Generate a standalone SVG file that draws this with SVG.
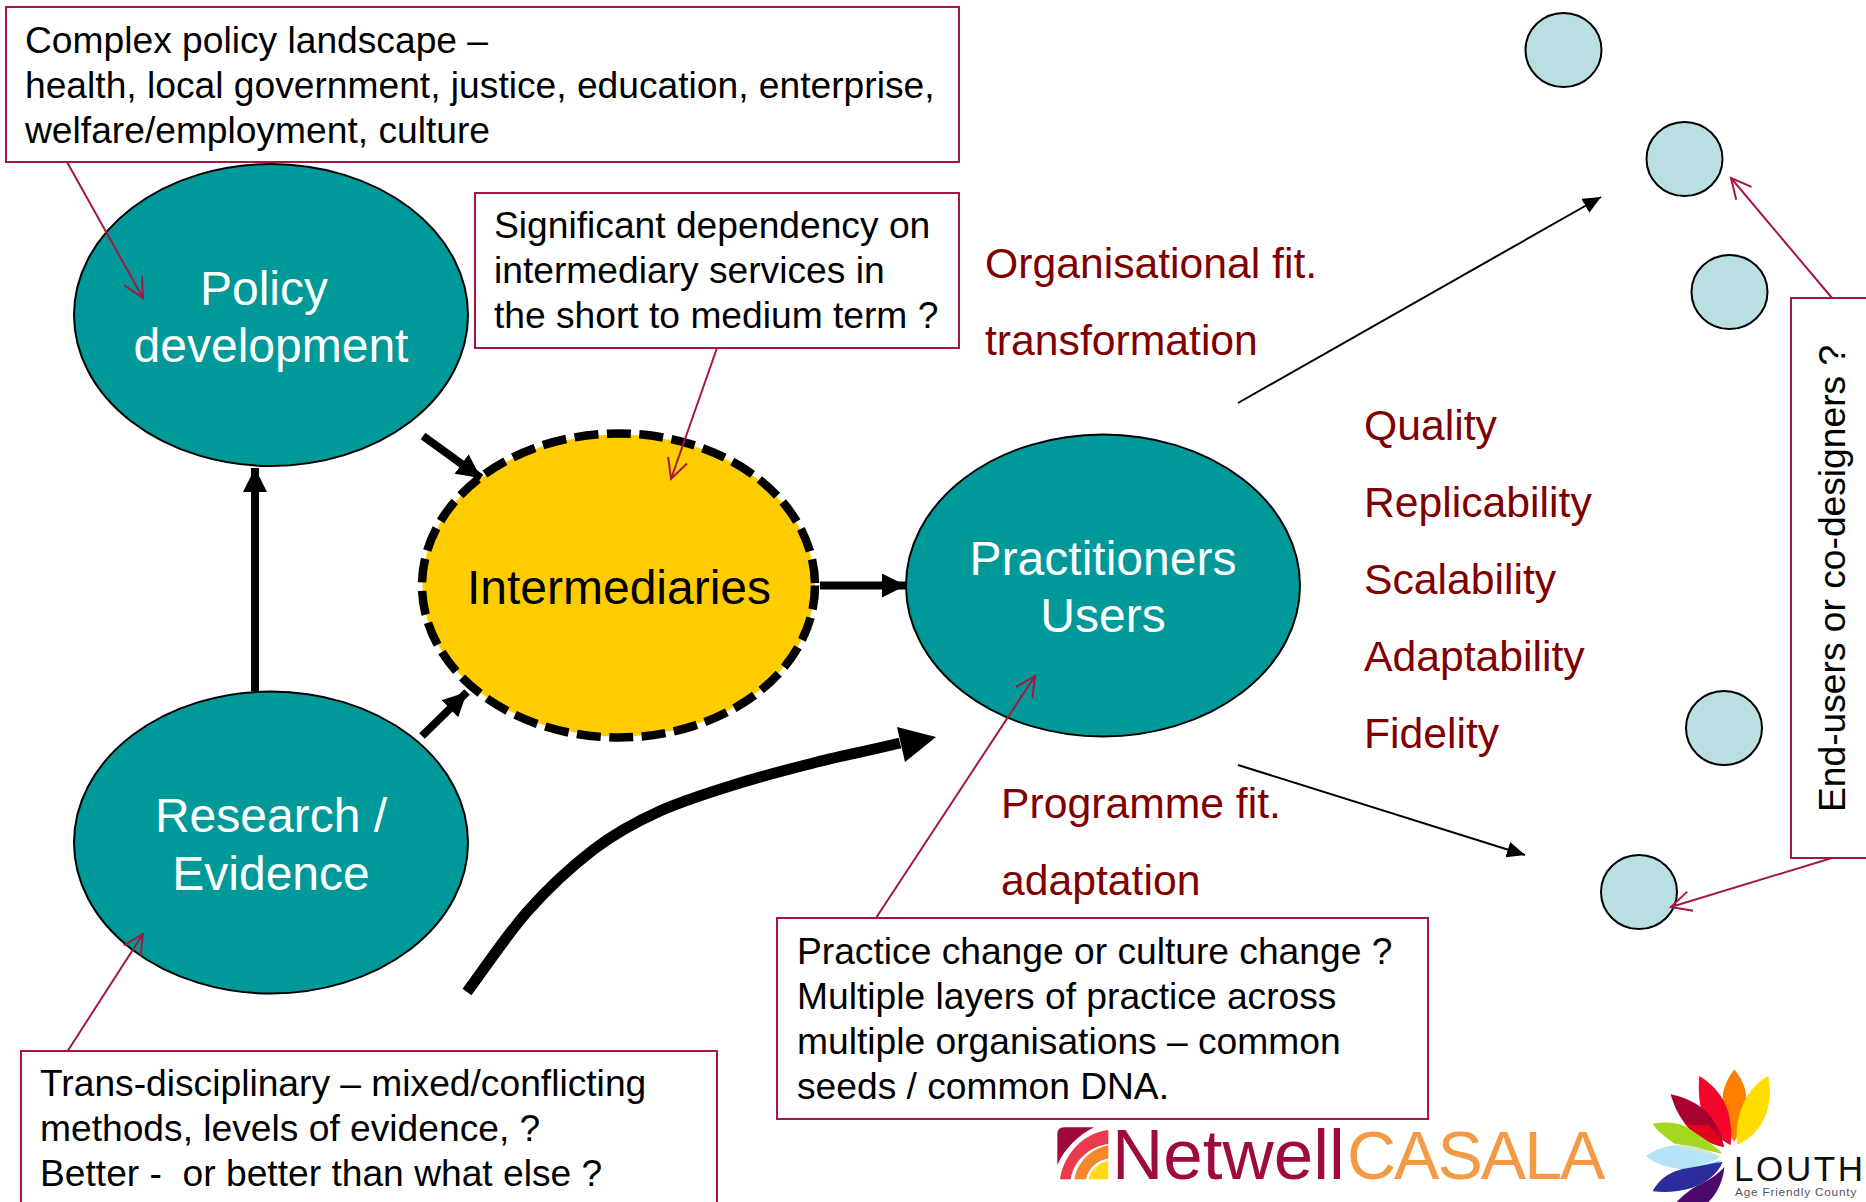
<svg xmlns="http://www.w3.org/2000/svg" width="1866" height="1202" viewBox="0 0 1866 1202">
<style>
text{font-family:"Liberation Sans",Arial,sans-serif}
.box{fill:#fff;stroke:#a5173f;stroke-width:2}
.t{font-size:37.200px;fill:#000}
.big{font-size:48px;fill:#fff;text-anchor:middle}
.red{font-size:42.700px;fill:#800000}
.teal{fill:#009999;stroke:#000;stroke-width:2}
.dot{fill:#b9dfe2;stroke:#000;stroke-width:2}
.thin{fill:none;stroke:#000;stroke-width:2;marker-end:url(#tri)}
.note{fill:none;stroke:#a5173f;stroke-width:2;marker-end:url(#open)}
.fat{fill:none;stroke:#000;stroke-width:8;marker-end:url(#fatHead)}
</style>
<defs>
<marker id="tri" markerUnits="userSpaceOnUse" markerWidth="20" markerHeight="16" refX="18" refY="8" orient="auto"><path d="M0 0L18 8L0 16Z" fill="#000"/></marker>
<marker id="open" markerUnits="userSpaceOnUse" markerWidth="24" markerHeight="26" refX="21" refY="11" orient="auto"><path d="M1 1L21 11L1 21" fill="none" stroke="#a5173f" stroke-width="2"/></marker>
<marker id="fatHead" markerUnits="userSpaceOnUse" markerWidth="26" markerHeight="26" refX="24" refY="12" orient="auto"><path d="M0 0L24 12L0 24Z" fill="#000"/></marker>
</defs>

<g id="node-policy"><ellipse class="teal" cx="271" cy="315" rx="197" ry="151"/><text class="big" x="264" y="305">Policy</text><text class="big" x="271" y="362">development</text></g>
<g id="node-research"><ellipse class="teal" cx="271" cy="842.500" rx="197" ry="151"/><text class="big" x="271" y="832">Research /</text><text class="big" x="271" y="890">Evidence</text></g>
<g id="node-practitioners"><ellipse class="teal" cx="1103" cy="585.500" rx="197" ry="151"/><text class="big" x="1103" y="575">Practitioners</text><text class="big" x="1103" y="632">Users</text></g>
<g id="node-intermediaries"><ellipse cx="618.500" cy="585.500" rx="196" ry="151" fill="#ffcc00"/><ellipse cx="618.500" cy="585.500" rx="196.500" ry="152" fill="none" stroke="#000" stroke-width="8.500" stroke-dasharray="24 8.500"/><text x="619" y="604" font-size="48" text-anchor="middle" fill="#000">Intermediaries</text></g>

<g id="node-dot1"><ellipse class="dot" cx="1563.500" cy="50" rx="38" ry="37"/></g>
<g id="node-dot2"><ellipse class="dot" cx="1684.500" cy="159" rx="38" ry="37"/></g>
<g id="node-dot3"><ellipse class="dot" cx="1729.500" cy="292" rx="38" ry="37"/></g>
<g id="node-dot4"><ellipse class="dot" cx="1724" cy="728" rx="38" ry="37"/></g>
<g id="node-dot5"><ellipse class="dot" cx="1639" cy="892" rx="38" ry="37"/></g>

<g id="note-policy"><rect class="box" x="6" y="7" width="953" height="155"/><text class="t" x="25" y="53">Complex policy landscape –</text><text class="t" x="25" y="98">health, local government, justice, education, enterprise,</text><text class="t" x="25" y="143">welfare/employment, culture</text></g>
<g id="note-intermediary"><rect class="box" x="475" y="193" width="484" height="155"/><text class="t" x="494" y="238">Significant dependency on</text><text class="t" x="494" y="283">intermediary services in</text><text class="t" x="494" y="328">the short to medium term ?</text></g>
<g id="note-research"><rect class="box" x="21" y="1051" width="696" height="160"/><text class="t" x="40" y="1096">Trans-disciplinary – mixed/conflicting</text><text class="t" x="40" y="1141">methods, levels of evidence, ?</text><text class="t" x="40" y="1186" xml:space="preserve">Better -  or better than what else ?</text></g>
<g id="note-practice"><rect class="box" x="777" y="918" width="651" height="201"/><text class="t" x="797" y="964">Practice change or culture change ?</text><text class="t" x="797" y="1009">Multiple layers of practice across</text><text class="t" x="797" y="1054">multiple organisations – common</text><text class="t" x="797" y="1099">seeds / common DNA.</text></g>
<g id="note-endusers"><rect class="box" x="1791" y="298" width="85" height="560"/><text class="t" transform="translate(1845 812) rotate(-90)">End-users or co-designers ?</text></g>

<g id="labels">
<text class="red" x="985" y="278">Organisational fit.</text>
<text class="red" x="985" y="355">transformation</text>
<text class="red" x="1364" y="440">Quality</text>
<text class="red" x="1364" y="517">Replicability</text>
<text class="red" x="1364" y="594">Scalability</text>
<text class="red" x="1364" y="671">Adaptability</text>
<text class="red" x="1364" y="748">Fidelity</text>
<text class="red" x="1001" y="818">Programme fit.</text>
<text class="red" x="1001" y="895">adaptation</text>
</g>

<g id="connectors">
<path class="fat" d="M255 691V468"/>
<path class="fat" d="M423 436L481 478"/>
<path class="fat" d="M422 736L467 692"/>
<path class="fat" d="M820 585.500H906"/>
<path d="M467 992C487 965 506 936 527 912C548 888 571 867 593 850C615 833 635.500 822 660 811C684.500 800 714 791 740 783C766 775 790 769 817 762C844 755 872 750 900 743" fill="none" stroke="#000" stroke-width="11"/>
<path d="M897 727L936 737L905 762Z" fill="#000"/>
<path class="thin" d="M1238 403L1601 197"/>
<path class="thin" d="M1238 765L1525 855"/>
<path class="note" d="M67 162L143 298"/>
<path class="note" d="M717 348L671 479"/>
<path class="note" d="M67 1052L143 934"/>
<path class="note" d="M876 918L1035 676"/>
<path class="note" d="M1832 298L1731 178"/>
<path class="note" d="M1832 858L1671 907"/>
</g>

<g id="logo-netwell">
<g transform="translate(1050 1110) scale(.3333)">
<path d="M22 165V72Q22 52 42 52H132C85 75 45 115 22 165Z" fill="#9e0b3b"/>
<path d="M30 208C40 135 100 68 175 60V102C118 110 72 150 62 208Z" fill="#ea3a4b"/>
<path d="M73 208C82 158 122 116 175 106V146C140 150 115 175 108 208Z" fill="#f5872a"/>
<path d="M116 208C122 180 145 158 175 152V208Z" fill="#ffd91a"/>
</g>
<text x="1112" y="1179" font-size="71" fill="#9e0b3b" font-family="Lato, sans-serif">Netwell</text>
<text x="1347" y="1179" font-size="68" fill="#f29a45" font-family="Lato, sans-serif" font-weight="300" letter-spacing="-2">CASALA</text>
</g>
<g id="logo-louth">
<g transform="translate(1640 1062) scale(.3333)">
<path d="M283 22C305 50 320 80 318 110C315 160 300 210 283 240C262 210 245 150 248 105C250 75 265 45 283 22Z" fill="#ff7f00"/>
<path d="M385 42C395 90 390 140 365 185C345 215 318 238 292 248C285 200 295 150 320 105C335 80 360 55 385 42Z" fill="#ffdd00"/>
<path d="M178 42C215 65 250 100 265 150C275 190 275 225 272 250C235 230 195 190 183 140C176 110 175 70 178 42Z" fill="#f4072b"/>
<path d="M92 97C135 105 175 125 205 155C230 185 248 225 252 255C210 245 165 225 135 185C112 155 100 125 92 97Z" fill="#a8002f"/>
<path d="M135 185C165 225 210 245 252 255C240 225 225 205 205 190C180 190 155 190 135 185Z" fill="#e2001a"/>
<path d="M38 185C75 178 115 182 140 195C185 225 225 250 247 275C200 265 145 250 105 245C75 225 50 205 38 185Z" fill="#a3d81f"/>
<path d="M18 282C55 255 100 245 140 250C180 255 215 270 240 285C205 305 165 320 120 320C75 318 40 302 18 282Z" fill="#b6e3f6"/>
<path d="M100 250C150 245 205 265 240 285C200 275 140 265 100 250Z" fill="#cdebc9"/>
<path d="M105 320C150 322 205 305 245 295C225 312 180 322 135 322Z" fill="#62c8ef"/>
<path d="M38 388C55 355 85 332 125 322C165 315 210 305 248 300C235 335 195 365 155 378C115 390 75 392 38 388Z" fill="#2c2c9c"/>
<path d="M110 420C130 400 150 380 190 362C215 350 240 330 253 315C250 355 232 395 205 420Z" fill="#4b0a6c"/>
</g>
<text x="1734" y="1181" font-size="35" fill="#111" font-family="'Open Sans', sans-serif" font-weight="300" letter-spacing="2.600">LOUTH</text>
<text x="1735" y="1196" font-size="11.800" fill="#555" font-family="'DejaVu Sans', sans-serif" letter-spacing=".8">Age Friendly County</text>
</g>
</svg>
